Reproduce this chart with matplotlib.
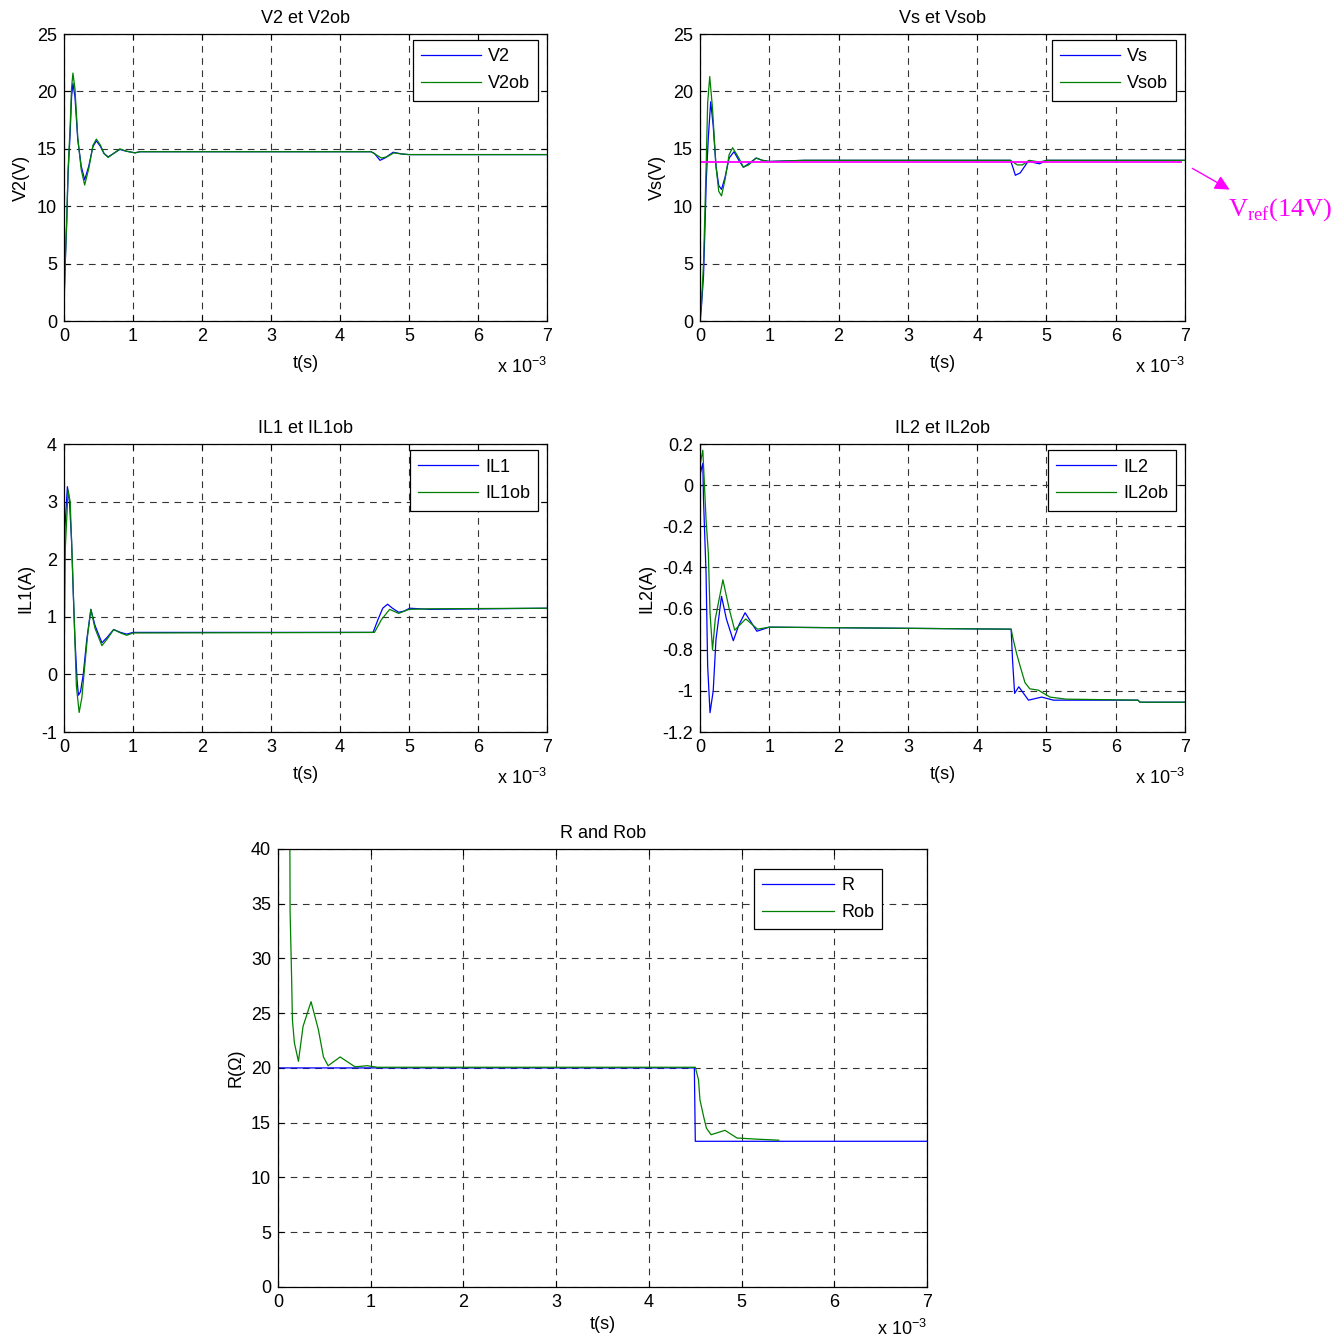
import matplotlib
matplotlib.use("Agg")
import matplotlib.pyplot as plt
from matplotlib.ticker import FuncFormatter

plt.rcParams["font.family"] = ["Liberation Sans", "DejaVu Sans"]
plt.rcParams["axes.unicode_minus"] = False
plt.rcParams["font.size"] = 13

# ================== DADOS (tempo em ms) ==================
# V2 / V2ob
t_v2 = [0, 0.015, 0.04, 0.06, 0.09, 0.11, 0.13, 0.16, 0.2, 0.25, 0.30, 0.36, 0.42, 0.47,
        0.53, 0.58, 0.64, 0.72, 0.81, 0.9, 1.03, 1.1, 4.45, 4.5, 4.58, 4.65, 4.77, 4.9, 5.0, 7.0]
v2 = [1.25, 4.4, 8.65, 12.9, 16.4, 19.5, 20.7, 19.5, 15.8, 13.5, 12.3, 13.5, 15.2, 15.7,
      15.2, 14.6, 14.3, 14.6, 14.95, 14.8, 14.65, 14.75, 14.75, 14.6, 14.0, 14.2, 14.7, 14.55, 14.5, 14.5]
t_v2ob = [0, 0.015, 0.04, 0.06, 0.09, 0.11, 0.13, 0.16, 0.2, 0.25, 0.30, 0.36, 0.42, 0.47,
          0.53, 0.58, 0.64, 0.72, 0.81, 0.9, 1.03, 1.1, 4.45, 4.52, 4.6, 4.68, 4.78, 4.9, 5.0, 7.0]
v2ob = [1.2, 4.5, 8.8, 13.2, 17.0, 20.3, 21.6, 20.2, 16.0, 13.2, 11.85, 13.3, 15.3, 15.85,
        15.3, 14.6, 14.25, 14.6, 15.0, 14.8, 14.65, 14.75, 14.75, 14.5, 14.2, 14.3, 14.65, 14.55, 14.5, 14.5]

# Vs / Vsob / Vref
t_vs = [0, 0.02, 0.05, 0.07, 0.09, 0.12, 0.154, 0.19, 0.23, 0.27, 0.31, 0.36, 0.42, 0.49,
        0.56, 0.625, 0.70, 0.81, 0.9, 1.0, 1.5, 4.48, 4.52, 4.55, 4.62, 4.74, 4.82, 4.9, 5.0, 7.0]
vs = [0, 1.25, 3.9, 7.9, 12.3, 16.05, 19.1, 17.0, 13.5, 11.8, 11.47, 12.5, 14.2, 14.75,
      14.0, 13.4, 13.7, 14.2, 14.0, 13.9, 14.0, 14.0, 13.3, 12.7, 12.9, 13.96, 13.8, 13.7, 14.0, 14.0]
t_vsob = [0, 0.02, 0.05, 0.07, 0.09, 0.11, 0.14, 0.18, 0.23, 0.27, 0.31, 0.36, 0.42, 0.47,
          0.56, 0.625, 0.70, 0.81, 0.9, 1.0, 1.5, 4.48, 4.53, 4.58, 4.65, 4.75, 4.9, 5.0, 7.0]
vsob = [0, 1.5, 5.0, 9.5, 14.0, 19.0, 21.3, 18.5, 13.5, 11.3, 10.9, 12.3, 14.5, 15.1,
        14.2, 13.4, 13.6, 14.2, 14.0, 13.9, 14.0, 14.0, 13.8, 13.6, 13.6, 14.0, 13.85, 14.0, 14.0]
t_vref = [0, 6.94]
vref = [13.85, 13.85]

# IL1 / IL1ob
t_il1 = [0, 0.015, 0.05, 0.08, 0.11, 0.135, 0.16, 0.19, 0.21, 0.24, 0.28, 0.33, 0.39, 0.45,
         0.55, 0.63, 0.72, 0.82, 0.91, 1.0, 4.48, 4.55, 4.62, 4.69, 4.76, 4.85, 4.93, 5.01, 5.3, 7.0]
il1 = [1.52, 2.56, 3.26, 3.0, 2.33, 1.41, 0.6, -0.1, -0.36, -0.3, 0.0, 0.6, 1.13, 0.85,
       0.55, 0.65, 0.78, 0.73, 0.7, 0.73, 0.73, 0.95, 1.15, 1.22, 1.15, 1.08, 1.1, 1.15, 1.13, 1.15]
t_il1ob = [0, 0.02, 0.06, 0.09, 0.12, 0.15, 0.18, 0.22, 0.26, 0.29, 0.34, 0.39, 0.45, 0.55,
           0.63, 0.72, 0.82, 0.91, 1.0, 4.5, 4.6, 4.72, 4.85, 5.0, 5.3, 7.0]
il1ob = [0, 2.2, 3.2, 3.0, 2.0, 0.9, -0.2, -0.66, -0.4, 0.0, 0.65, 1.13, 0.8, 0.5,
         0.62, 0.78, 0.72, 0.68, 0.72, 0.73, 0.95, 1.13, 1.06, 1.13, 1.14, 1.15]

# IL2 / IL2ob
t_il2 = [0, 0.02, 0.04, 0.05, 0.087, 0.11, 0.144, 0.19, 0.23, 0.31, 0.38, 0.48, 0.56, 0.65,
         0.82, 1.0, 4.49, 4.51, 4.54, 4.6, 4.74, 4.93, 5.1, 6.32, 6.35, 7.0]
il2 = [0.05, 0.08, 0.106, -0.07, -0.43, -0.88, -1.106, -1.0, -0.75, -0.54, -0.65, -0.756, -0.68, -0.62,
       -0.71, -0.69, -0.70, -0.85, -1.012, -0.98, -1.045, -1.03, -1.045, -1.045, -1.055, -1.055]
t_il2ob = [0, 0.04, 0.087, 0.12, 0.144, 0.18, 0.22, 0.33, 0.42, 0.5, 0.66, 0.83, 1.0,
           4.49, 4.52, 4.57, 4.62, 4.69, 4.76, 4.88, 5.05, 5.28, 6.32, 6.35, 7.0]
il2ob = [0.1, 0.17, -0.17, -0.33, -0.62, -0.80, -0.65, -0.46, -0.6, -0.705, -0.65, -0.70, -0.69,
         -0.70, -0.75, -0.82, -0.88, -0.96, -0.99, -0.996, -1.03, -1.04, -1.045, -1.055, -1.055]

# R / Rob
t_r = [0, 4.49, 4.5, 7.0]
r = [20, 20, 13.3, 13.3]
t_rob = [0, 0.003, 0.12, 0.13, 0.147, 0.155, 0.176, 0.22, 0.27, 0.356, 0.435, 0.49, 0.54,
         0.67, 0.83, 0.96, 1.07, 4.5, 4.535, 4.55, 4.59, 4.62, 4.67, 4.82, 4.95, 5.15, 5.4]
rob = [0, 60, 60, 34.3, 28.0, 24.4, 22.3, 20.6, 23.8, 26.05, 23.5, 21.0, 20.2,
       21.0, 20.1, 20.2, 20.06, 20.06, 18.9, 17.1, 15.55, 14.5, 13.9, 14.3, 13.6, 13.5, 13.4]

AZUL = "#0000ff"
VERDE = "#008000"


def formata_eixo(ax, titulo, ylabel, ylim, yticks, leg, leg_pos=(0.982, 0.978), hl=3.3):
    ax.set_xlim(0, 7)
    ax.set_ylim(*ylim)
    ax.set_xticks(range(8))
    ax.set_yticks(yticks)
    ax.yaxis.set_major_formatter(FuncFormatter(lambda v, p: "%g" % round(v, 2)))
    ax.tick_params(direction="in", length=4, width=0.8, top=True, right=True,
                   labelsize=13, pad=5)
    ax.grid(True, color="#333333", linestyle=(0, (6, 5)), linewidth=0.8)
    for s in ax.spines.values():
        s.set_linewidth(0.9)
    ax.set_title(titulo, fontsize=13, pad=8)
    ax.set_xlabel("t(s)", fontsize=13, labelpad=7)
    ax.set_ylabel(ylabel, fontsize=13, labelpad=5)
    ax.text(1.0, -0.16, r"x 10$^{\mathregular{-3}}$", transform=ax.transAxes,
            ha="right", va="center", fontsize=13)
    lg = ax.legend(leg, loc="upper right", bbox_to_anchor=leg_pos, fontsize=13,
                   fancybox=False, framealpha=1, edgecolor="black", handlelength=hl,
                   handletextpad=0.4, labelspacing=0.55, borderpad=0.45, borderaxespad=0)
    lg.get_frame().set_linewidth(0.9)


fig = plt.figure(figsize=(13.38, 13.40), dpi=100)

# Gráfico 1 - V2
ax1 = fig.add_axes([0.0478, 0.7604, 0.3610, 0.2142])
ax1.plot(t_v2, v2, color=AZUL, lw=0.9)
ax1.plot(t_v2ob, v2ob, color=VERDE, lw=0.9)
formata_eixo(ax1, "V2 et V2ob", "V2(V)", (0, 25), range(0, 26, 5), ["V2", "V2ob"])

# Gráfico 2 - Vs
ax2 = fig.add_axes([0.5232, 0.7604, 0.3625, 0.2142])
ax2.plot(t_vs, vs, color=AZUL, lw=0.9)
ax2.plot(t_vsob, vsob, color=VERDE, lw=0.9)
ax2.plot(t_vref, vref, color="#ff00ff", lw=1.3)
formata_eixo(ax2, "Vs et Vsob", "Vs(V)", (0, 25), range(0, 26, 5), ["Vs", "Vsob"])

# Gráfico 3 - IL1
ax3 = fig.add_axes([0.0478, 0.4537, 0.3610, 0.2149])
ax3.plot(t_il1, il1, color=AZUL, lw=0.9)
ax3.plot(t_il1ob, il1ob, color=VERDE, lw=0.9)
formata_eixo(ax3, "IL1 et IL1ob", "IL1(A)", (-1, 4), range(-1, 5), ["IL1", "IL1ob"])

# Gráfico 4 - IL2
ax4 = fig.add_axes([0.5232, 0.4537, 0.3625, 0.2149])
ax4.plot(t_il2, il2, color=AZUL, lw=0.9)
ax4.plot(t_il2ob, il2ob, color=VERDE, lw=0.9)
formata_eixo(ax4, "IL2 et IL2ob", "IL2(A)", (-1.2, 0.2),
             [-1.2, -1.0, -0.8, -0.6, -0.4, -0.2, 0.0, 0.2], ["IL2", "IL2ob"])

# Gráfico 5 - R
ax5 = fig.add_axes([0.2078, 0.0396, 0.4851, 0.3269])
ax5.plot(t_r, r, color=AZUL, lw=0.9)
ax5.plot(t_rob, rob, color=VERDE, lw=0.9)
formata_eixo(ax5, "R and Rob", "R(Ω)", (0, 40), range(0, 41, 5), ["R", "Rob"],
             leg_pos=(0.931, 0.954), hl=4.0)
ax5.texts[-1].set_position((1.0, -0.095))
ax5.xaxis.labelpad = 4

# anotação Vref
fig.patches.append(matplotlib.patches.FancyArrowPatch(
    (1190 / 1338, 1 - 167 / 1340), (1232 / 1338, 1 - 191 / 1340),
    transform=fig.transFigure, arrowstyle="-|>", mutation_scale=22,
    color="#ff00ff", lw=1))
fig.text(1228 / 1338, 1 - 210 / 1340, r"V$_{\mathregular{ref}}$(14V)", color="#ff00ff",
         family="Liberation Serif", fontsize=19, ha="left", va="center")

plt.savefig("out.png", dpi=100)
plt.close()
